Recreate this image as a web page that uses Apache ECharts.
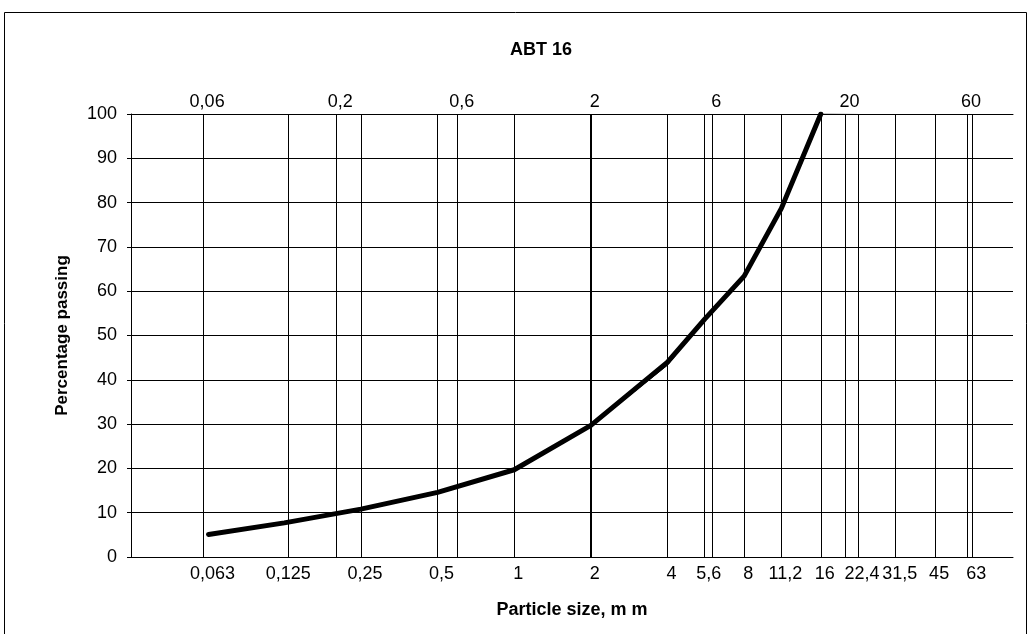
<!DOCTYPE html>
<html>
<head>
<meta charset="utf-8">
<script src="https://cdn.jsdelivr.net/npm/echarts@6/dist/echarts.min.js"></script>
<style>
html,body{margin:0;padding:0;background:#fff;}
#chart{width:1030px;height:634px;}
</style>
</head>
<body>
<div id="chart"></div>
<script>
// ---- data ----
const titleText = 'ABT 16';
const xAxisName = 'Particle size, m m';
const yAxisName = 'Percentage passing';
const bottomTickLabels = ['0,063','0,125','0,25','0,5','1','2','4','5,6','8','11,2','16','22,4','31,5','45','63'];
const topTickLabels = ['0,06','0,2','0,6','2','6','20','60'];
const sieveSizes = [0.063, 0.125, 0.25, 0.5, 1, 2, 4, 5.6, 8, 11.2, 16];
const passingMain = [5.1, 7.7, 10.8, 14.6, 19.7, 29.7, 44.0, 53.7, 63.4, 78.7, 100];
const sieveSizesThin = [0.063, 0.125, 0.25, 0.5, 1, 2, 4, 5.6, 8, 11.2, 16, 22.4];
const passingThin = [5.1, 7.7, 10.8, 14.6, 19.7, 29.5, 43.3, 53.5, 63.4, 78.7, 100, 99.9];
const xMin = 1/32, xMax = 91;

const toNum = s => parseFloat(s.replace(',', '.'));
const bottomVals = bottomTickLabels.map(toNum);
const topVals = topTickLabels.map(toNum);
const allGrid = Array.from(new Set(bottomVals.concat(topVals))).sort((a,b)=>a-b);

function labelFor(list, vals) {
  return function (v) {
    for (let i = 0; i < vals.length; i++) {
      if (Math.abs(Math.log(v / vals[i])) < 0.01) return list[i];
    }
    return '';
  };
}

const FONT = 'Liberation Sans, Arial, sans-serif';
const chart = echarts.init(document.getElementById('chart'), null, {renderer: 'canvas'});

const commonX = {
  type: 'log', logBase: 2, min: xMin, max: xMax,
  axisLine: {show: true, lineStyle: {color: '#000', width: 1}},
  axisTick: {show: false},
  splitLine: {show: false},
  minorTick: {show: false}, minorSplitLine: {show: false}
};

chart.setOption({
  animation: false,
  backgroundColor: '#fff',
  grid: {left: 131, right: 17, top: 114, bottom: 77, containLabel: false},
  graphic: [
    {type: 'rect', shape: {x: 4.5, y: 12.5, width: 1022, height: 640},
     style: {fill: 'none', stroke: '#000', lineWidth: 1}, silent: true},
    {type: 'text', x: 541, y: 50,
     style: {text: titleText, align: 'center', verticalAlign: 'middle',
             fontFamily: FONT, fontWeight: 'bold', fontSize: 18, fill: '#000'}}
  ],
  xAxis: [
    Object.assign({}, commonX, {
      position: 'bottom',
      name: xAxisName, nameLocation: 'middle', nameGap: 44,
      nameTextStyle: {fontFamily: FONT, fontWeight: 'bold', fontSize: 18, color: '#000'},
      axisLabel: {customValues: bottomVals, formatter: labelFor(bottomTickLabels, bottomVals),
                  fontFamily: FONT, fontSize: 18, color: '#000', margin: 8,
                  padding: [0, 0, 0, 8], hideOverlap: false}
    }),
    Object.assign({}, commonX, {
      position: 'top',
      axisLabel: {customValues: topVals, formatter: labelFor(topTickLabels, topVals),
                  fontFamily: FONT, fontSize: 18, color: '#000', margin: 3,
                  padding: [0, 0, 0, 8], hideOverlap: false}
    })
  ],
  yAxis: {
    type: 'value', min: 0, max: 100, interval: 10,
    name: yAxisName, nameLocation: 'middle', nameGap: 60,
    nameTextStyle: {fontFamily: FONT, fontWeight: 'bold', fontSize: 17, color: '#000'},
    axisLine: {show: true, lineStyle: {color: '#000', width: 1}},
    axisTick: {show: true, inside: false, length: 4, lineStyle: {color: '#000'}},
    axisLabel: {fontFamily: FONT, fontSize: 18, color: '#000', margin: 14},
    splitLine: {show: true, lineStyle: {color: '#000', width: 1}}
  },
  series: [
    {
      type: 'line', xAxisIndex: 0, data: [], z: 1, silent: true,
      markLine: {
        silent: true, symbol: 'none', animation: false,
        label: {show: false},
        data: allGrid.map(v => ({xAxis: v, lineStyle: {color: '#000', width: v === 2 ? 2 : 1, type: 'solid'}}))
      }
    },
    {
      type: 'line', xAxisIndex: 0, z: 3, symbol: 'none', silent: true,
      data: sieveSizesThin.map((x, i) => [x, passingThin[i]]),
      lineStyle: {color: '#000', width: 1}
    },
    {
      type: 'line', xAxisIndex: 0, z: 4, symbol: 'none', silent: true,
      data: sieveSizes.map((x, i) => [x, passingMain[i]]),
      lineStyle: {color: '#000', width: 5, cap: 'round', join: 'round'}
    }
  ]
});
</script>
</body>
</html>
